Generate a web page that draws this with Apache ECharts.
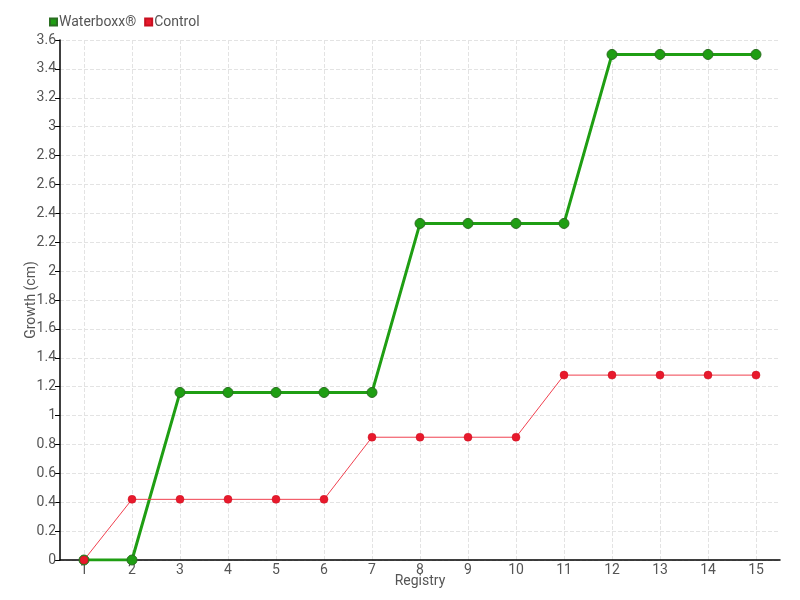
<!DOCTYPE html>
<html><head><meta charset="utf-8">
<script src="https://cdn.jsdelivr.net/npm/echarts@6/dist/echarts.min.js"></script>
<style>html,body{margin:0;padding:0;background:#fff}#c{width:800px;height:600px}</style>
</head><body><div id="c"></div>
<script>
var categories = ['1','2','3','4','5','6','7','8','9','10','11','12','13','14','15'];
var waterboxx = [0, 0, 1.16, 1.16, 1.16, 1.16, 1.16, 2.33, 2.33, 2.33, 2.33, 3.5, 3.5, 3.5, 3.5];
var control = [0, 0.42, 0.42, 0.42, 0.42, 0.42, 0.85, 0.85, 0.85, 0.85, 1.28, 1.28, 1.28, 1.28, 1.28];
var seriesNames = ['Waterboxx®', 'Control'];

var font = 'Roboto, sans-serif';
var chart = echarts.init(document.getElementById('c'), null, {renderer: 'canvas'});
chart.setOption({
  animation: false,
  textStyle: {fontFamily: font},
  legend: {
    left: 44, top: 10, itemWidth: 7, itemHeight: 7, itemGap: 8,
    icon: 'rect',
    textStyle: {fontFamily: font, fontSize: 14, color: '#555', padding: [0,0,0,-3]},
    data: seriesNames
  },
  grid: {left: 60, right: 20, top: 40, bottom: 40},
  xAxis: {
    type: 'category', data: categories, boundaryGap: true,
    name: 'Registry', nameLocation: 'middle', nameGap: 14, nameMoveOverlap: false,
    nameTextStyle: {fontFamily: font, fontSize: 14, color: '#555'},
    axisLine: {lineStyle: {color: '#000', width: 1.5}},
    axisTick: {alignWithLabel: true, length: 5, lineStyle: {color: '#000'}},
    axisLabel: {fontFamily: font, fontSize: 14, color: '#555', margin: 3},
    splitLine: {show: false}
  },
  yAxis: {
    type: 'value', min: 0, max: 3.6, interval: 0.2,
    name: 'Growth (cm)', nameLocation: 'middle', nameGap: 22, nameMoveOverlap: false,
    nameTextStyle: {fontFamily: font, fontSize: 14, color: '#555'},
    axisLine: {show: true, lineStyle: {color: '#000', width: 1.5}},
    axisTick: {show: true, length: 5, lineStyle: {color: '#000'}},
    axisLabel: {fontFamily: font, fontSize: 14, color: '#555', margin: 4,
      formatter: function(v){ return String(Math.round(v*10)/10); }},
    splitLine: {show: true, lineStyle: {color: '#e3e3e3', type: 'dashed'}}
  },
  series: [
    {
      name: seriesNames[0], type: 'line', data: waterboxx,
      color: '#1f9e13',
      symbol: 'circle', symbolSize: 10,
      lineStyle: {color: '#1f9e13', width: 3},
      itemStyle: {color: '#1f9e13', borderColor: '#2b6e22', borderWidth: 1},
      markLine: {
        silent: true, symbol: 'none', z: 0, animation: false,
        label: {show: false},
        lineStyle: {color: '#e3e3e3', type: 'dashed', width: 1},
        data: categories.map(function(c){ return {xAxis: c}; })
      }
    },
    {
      name: seriesNames[1], type: 'line', data: control,
      color: '#e8192c',
      symbol: 'circle', symbolSize: 8,
      lineStyle: {color: '#f0404f', width: 1},
      itemStyle: {color: '#e8192c', borderColor: '#c81020', borderWidth: 0.5}
    }
  ]
});
</script></body></html>
